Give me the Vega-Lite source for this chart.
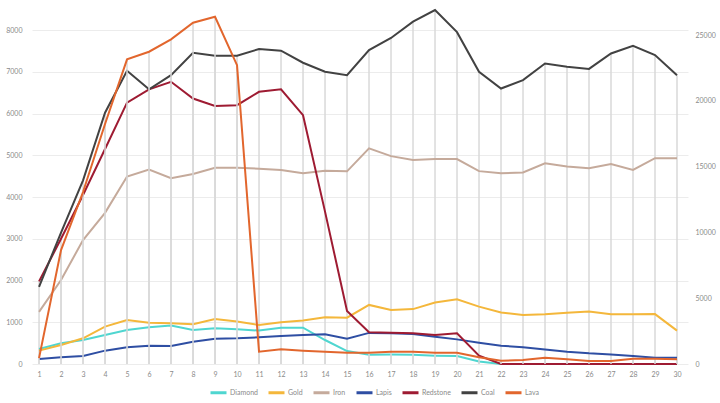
{
  "$schema": "https://vega.github.io/schema/vega-lite/v6.json",
  "width": 656,
  "height": 364,
  "autosize": {"type": "none"},
  "padding": {"left": 32, "top": 0, "right": 32, "bottom": 39},
  "config": {
    "view": {"stroke": null},
    "font": "Lato",
    "axis": {"labelFont": "Lato", "labelFontSize": 7, "labelColor": "#8a8a8a", "ticks": false, "domain": false, "title": null},
    "axisX": {"labelOverlap": false, "labelFlush": false, "labelBound": false},
    "legend": {"labelFont": "Lato"}
  },
  "datasets": {
    "ores": [
      {"x":1,"s":"Diamond","v":360},{"x":2,"s":"Diamond","v":495},{"x":3,"s":"Diamond","v":575},{"x":4,"s":"Diamond","v":695},{"x":5,"s":"Diamond","v":815},{"x":6,"s":"Diamond","v":880},{"x":7,"s":"Diamond","v":920},{"x":8,"s":"Diamond","v":815},{"x":9,"s":"Diamond","v":855},{"x":10,"s":"Diamond","v":830},{"x":11,"s":"Diamond","v":800},{"x":12,"s":"Diamond","v":870},{"x":13,"s":"Diamond","v":870},{"x":14,"s":"Diamond","v":575},{"x":15,"s":"Diamond","v":310},{"x":16,"s":"Diamond","v":220},{"x":17,"s":"Diamond","v":225},{"x":18,"s":"Diamond","v":220},{"x":19,"s":"Diamond","v":200},{"x":20,"s":"Diamond","v":190},{"x":21,"s":"Diamond","v":60},{"x":22,"s":"Diamond","v":0},{"x":23,"s":"Diamond","v":0},{"x":24,"s":"Diamond","v":0},{"x":25,"s":"Diamond","v":0},{"x":26,"s":"Diamond","v":0},{"x":27,"s":"Diamond","v":0},{"x":28,"s":"Diamond","v":0},{"x":29,"s":"Diamond","v":0},{"x":30,"s":"Diamond","v":0},
      {"x":1,"s":"Gold","v":320},{"x":2,"s":"Gold","v":455},{"x":3,"s":"Gold","v":615},{"x":4,"s":"Gold","v":895},{"x":5,"s":"Gold","v":1055},{"x":6,"s":"Gold","v":990},{"x":7,"s":"Gold","v":975},{"x":8,"s":"Gold","v":950},{"x":9,"s":"Gold","v":1080},{"x":10,"s":"Gold","v":1020},{"x":11,"s":"Gold","v":935},{"x":12,"s":"Gold","v":1000},{"x":13,"s":"Gold","v":1040},{"x":14,"s":"Gold","v":1120},{"x":15,"s":"Gold","v":1110},{"x":16,"s":"Gold","v":1415},{"x":17,"s":"Gold","v":1295},{"x":18,"s":"Gold","v":1315},{"x":19,"s":"Gold","v":1475},{"x":20,"s":"Gold","v":1550},{"x":21,"s":"Gold","v":1375},{"x":22,"s":"Gold","v":1235},{"x":23,"s":"Gold","v":1175},{"x":24,"s":"Gold","v":1190},{"x":25,"s":"Gold","v":1230},{"x":26,"s":"Gold","v":1255},{"x":27,"s":"Gold","v":1190},{"x":28,"s":"Gold","v":1190},{"x":29,"s":"Gold","v":1195},{"x":30,"s":"Gold","v":800},
      {"x":1,"s":"Iron","v":1250},{"x":2,"s":"Iron","v":2010},{"x":3,"s":"Iron","v":2970},{"x":4,"s":"Iron","v":3620},{"x":5,"s":"Iron","v":4490},{"x":6,"s":"Iron","v":4660},{"x":7,"s":"Iron","v":4450},{"x":8,"s":"Iron","v":4550},{"x":9,"s":"Iron","v":4700},{"x":10,"s":"Iron","v":4700},{"x":11,"s":"Iron","v":4680},{"x":12,"s":"Iron","v":4650},{"x":13,"s":"Iron","v":4570},{"x":14,"s":"Iron","v":4630},{"x":15,"s":"Iron","v":4615},{"x":16,"s":"Iron","v":5165},{"x":17,"s":"Iron","v":4980},{"x":18,"s":"Iron","v":4890},{"x":19,"s":"Iron","v":4910},{"x":20,"s":"Iron","v":4910},{"x":21,"s":"Iron","v":4620},{"x":22,"s":"Iron","v":4570},{"x":23,"s":"Iron","v":4590},{"x":24,"s":"Iron","v":4810},{"x":25,"s":"Iron","v":4730},{"x":26,"s":"Iron","v":4690},{"x":27,"s":"Iron","v":4790},{"x":28,"s":"Iron","v":4650},{"x":29,"s":"Iron","v":4930},{"x":30,"s":"Iron","v":4930},
      {"x":1,"s":"Lapis","v":120},{"x":2,"s":"Lapis","v":160},{"x":3,"s":"Lapis","v":190},{"x":4,"s":"Lapis","v":320},{"x":5,"s":"Lapis","v":400},{"x":6,"s":"Lapis","v":440},{"x":7,"s":"Lapis","v":430},{"x":8,"s":"Lapis","v":535},{"x":9,"s":"Lapis","v":605},{"x":10,"s":"Lapis","v":615},{"x":11,"s":"Lapis","v":640},{"x":12,"s":"Lapis","v":670},{"x":13,"s":"Lapis","v":695},{"x":14,"s":"Lapis","v":710},{"x":15,"s":"Lapis","v":605},{"x":16,"s":"Lapis","v":745},{"x":17,"s":"Lapis","v":735},{"x":18,"s":"Lapis","v":720},{"x":19,"s":"Lapis","v":655},{"x":20,"s":"Lapis","v":590},{"x":21,"s":"Lapis","v":510},{"x":22,"s":"Lapis","v":440},{"x":23,"s":"Lapis","v":400},{"x":24,"s":"Lapis","v":350},{"x":25,"s":"Lapis","v":295},{"x":26,"s":"Lapis","v":255},{"x":27,"s":"Lapis","v":230},{"x":28,"s":"Lapis","v":190},{"x":29,"s":"Lapis","v":150},{"x":30,"s":"Lapis","v":150},
      {"x":1,"s":"Redstone","v":1980},{"x":2,"s":"Redstone","v":3000},{"x":3,"s":"Redstone","v":4050},{"x":4,"s":"Redstone","v":5150},{"x":5,"s":"Redstone","v":6260},{"x":6,"s":"Redstone","v":6580},{"x":7,"s":"Redstone","v":6760},{"x":8,"s":"Redstone","v":6360},{"x":9,"s":"Redstone","v":6180},{"x":10,"s":"Redstone","v":6200},{"x":11,"s":"Redstone","v":6520},{"x":12,"s":"Redstone","v":6580},{"x":13,"s":"Redstone","v":5960},{"x":14,"s":"Redstone","v":3650},{"x":15,"s":"Redstone","v":1270},{"x":16,"s":"Redstone","v":760},{"x":17,"s":"Redstone","v":750},{"x":18,"s":"Redstone","v":735},{"x":19,"s":"Redstone","v":695},{"x":20,"s":"Redstone","v":735},{"x":21,"s":"Redstone","v":200},{"x":22,"s":"Redstone","v":0},{"x":23,"s":"Redstone","v":0},{"x":24,"s":"Redstone","v":0},{"x":25,"s":"Redstone","v":0},{"x":26,"s":"Redstone","v":0},{"x":27,"s":"Redstone","v":0},{"x":28,"s":"Redstone","v":0},{"x":29,"s":"Redstone","v":0},{"x":30,"s":"Redstone","v":0},
      {"x":1,"s":"Coal","v":1850},{"x":2,"s":"Coal","v":3150},{"x":3,"s":"Coal","v":4400},{"x":4,"s":"Coal","v":6020},{"x":5,"s":"Coal","v":7025},{"x":6,"s":"Coal","v":6580},{"x":7,"s":"Coal","v":6920},{"x":8,"s":"Coal","v":7456},{"x":9,"s":"Coal","v":7385},{"x":10,"s":"Coal","v":7385},{"x":11,"s":"Coal","v":7545},{"x":12,"s":"Coal","v":7505},{"x":13,"s":"Coal","v":7217},{"x":14,"s":"Coal","v":7000},{"x":15,"s":"Coal","v":6920},{"x":16,"s":"Coal","v":7520},{"x":17,"s":"Coal","v":7810},{"x":18,"s":"Coal","v":8200},{"x":19,"s":"Coal","v":8480},{"x":20,"s":"Coal","v":7950},{"x":21,"s":"Coal","v":7000},{"x":22,"s":"Coal","v":6600},{"x":23,"s":"Coal","v":6800},{"x":24,"s":"Coal","v":7200},{"x":25,"s":"Coal","v":7120},{"x":26,"s":"Coal","v":7070},{"x":27,"s":"Coal","v":7440},{"x":28,"s":"Coal","v":7620},{"x":29,"s":"Coal","v":7400},{"x":30,"s":"Coal","v":6920}
    ],
    "lava": [
      {"x":1,"s":"Lava","v":450},{"x":2,"s":"Lava","v":8660},{"x":3,"s":"Lava","v":13070},{"x":4,"s":"Lava","v":18240},{"x":5,"s":"Lava","v":23150},{"x":6,"s":"Lava","v":23730},{"x":7,"s":"Lava","v":24670},{"x":8,"s":"Lava","v":25930},{"x":9,"s":"Lava","v":26390},{"x":10,"s":"Lava","v":22710},{"x":11,"s":"Lava","v":940},{"x":12,"s":"Lava","v":1120},{"x":13,"s":"Lava","v":1015},{"x":14,"s":"Lava","v":936},{"x":15,"s":"Lava","v":857},{"x":16,"s":"Lava","v":857},{"x":17,"s":"Lava","v":936},{"x":18,"s":"Lava","v":936},{"x":19,"s":"Lava","v":857},{"x":20,"s":"Lava","v":857},{"x":21,"s":"Lava","v":508},{"x":22,"s":"Lava","v":254},{"x":23,"s":"Lava","v":305},{"x":24,"s":"Lava","v":476},{"x":25,"s":"Lava","v":355},{"x":26,"s":"Lava","v":228},{"x":27,"s":"Lava","v":228},{"x":28,"s":"Lava","v":406},{"x":29,"s":"Lava","v":406},{"x":30,"s":"Lava","v":355}
    ]
  },
  "layer": [
    {
      "data": {"name": "ores"},
      "layer": [
        {
          "transform": [{"aggregate": [{"op": "max", "field": "v", "as": "m"}], "groupby": ["x"]}],
          "mark": {"type": "rule", "color": "#d9d9d9", "strokeWidth": 1.5},
          "encoding": {
            "x": {"field": "x", "type": "quantitative", "scale": {"domain": [0.68, 30.5], "nice": false, "zero": false},
                  "axis": {"values": [1,2,3,4,5,6,7,8,9,10,11,12,13,14,15,16,17,18,19,20,21,22,23,24,25,26,27,28,29,30], "format": "d", "grid": false, "labelPadding": 6, "labelOverlap": false, "labelFlush": false}},
            "y": {"field": "m", "type": "quantitative", "scale": {"domain": [0, 8720], "nice": false},
                  "axis": {"orient": "left", "values": [0,1000,2000,3000,4000,5000,6000,7000,8000], "format": "d", "grid": true, "gridColor": "#ececec", "gridWidth": 1, "labelPadding": 10}},
            "y2": {"datum": 0}
          }
        },
        {
          "mark": {"type": "line", "strokeWidth": 2},
          "encoding": {
            "x": {"field": "x", "type": "quantitative", "scale": {"domain": [0.68, 30.5], "nice": false, "zero": false},
                  "axis": {"values": [1,2,3,4,5,6,7,8,9,10,11,12,13,14,15,16,17,18,19,20,21,22,23,24,25,26,27,28,29,30], "format": "d", "grid": false, "labelPadding": 6, "labelOverlap": false, "labelFlush": false}},
            "y": {"field": "v", "type": "quantitative", "scale": {"domain": [0, 8720], "nice": false},
                  "axis": {"orient": "left", "values": [0,1000,2000,3000,4000,5000,6000,7000,8000], "format": "d", "grid": true, "gridColor": "#ececec", "gridWidth": 1, "labelPadding": 10}},
            "color": {"field": "s", "type": "nominal",
                      "scale": {"domain": ["Diamond","Gold","Iron","Lapis","Redstone","Coal","Lava"],
                                "range": ["#4fd6d0","#f4b73b","#c5aa9b","#2e4ea3","#9e1b32","#424242","#e2662d"]},
                      "legend": {"orient": "none", "legendX": 177, "legendY": 383, "direction": "horizontal", "title": null,
                                 "symbolType": "stroke", "symbolSize": 256, "symbolStrokeWidth": 3, "labelFontSize": 7, "labelColor": "#8a8a8a",
                                 "labelOffset": 2, "columnPadding": 4}},
            "order": {"field": "x", "type": "quantitative"}
          }
        }
      ]
    },
    {
      "data": {"name": "lava"},
      "layer": [
        {
          "mark": {"type": "rule", "color": "#d9d9d9", "strokeWidth": 1.5},
          "encoding": {
            "x": {"field": "x", "type": "quantitative", "scale": {"domain": [0.68, 30.5], "nice": false, "zero": false},
                  "axis": {"values": [1,2,3,4,5,6,7,8,9,10,11,12,13,14,15,16,17,18,19,20,21,22,23,24,25,26,27,28,29,30], "format": "d", "grid": false, "labelPadding": 6, "labelOverlap": false, "labelFlush": false}},
            "y": {"field": "v", "type": "quantitative", "scale": {"domain": [0, 27660], "nice": false},
                  "axis": {"orient": "right", "values": [0,5000,10000,15000,20000,25000], "format": "d", "grid": false, "labelPadding": 7}},
            "y2": {"datum": 0}
          }
        },
        {
          "mark": {"type": "line", "strokeWidth": 2},
          "encoding": {
            "x": {"field": "x", "type": "quantitative", "scale": {"domain": [0.68, 30.5], "nice": false, "zero": false},
                  "axis": {"values": [1,2,3,4,5,6,7,8,9,10,11,12,13,14,15,16,17,18,19,20,21,22,23,24,25,26,27,28,29,30], "format": "d", "grid": false, "labelPadding": 6, "labelOverlap": false, "labelFlush": false}},
            "y": {"field": "v", "type": "quantitative", "scale": {"domain": [0, 27660], "nice": false},
                  "axis": {"orient": "right", "values": [0,5000,10000,15000,20000,25000], "format": "d", "grid": false, "labelPadding": 7}},
            "color": {"field": "s", "type": "nominal"},
            "order": {"field": "x", "type": "quantitative"}
          }
        }
      ]
    }
  ],
  "resolve": {"scale": {"y": "independent"}}
}
